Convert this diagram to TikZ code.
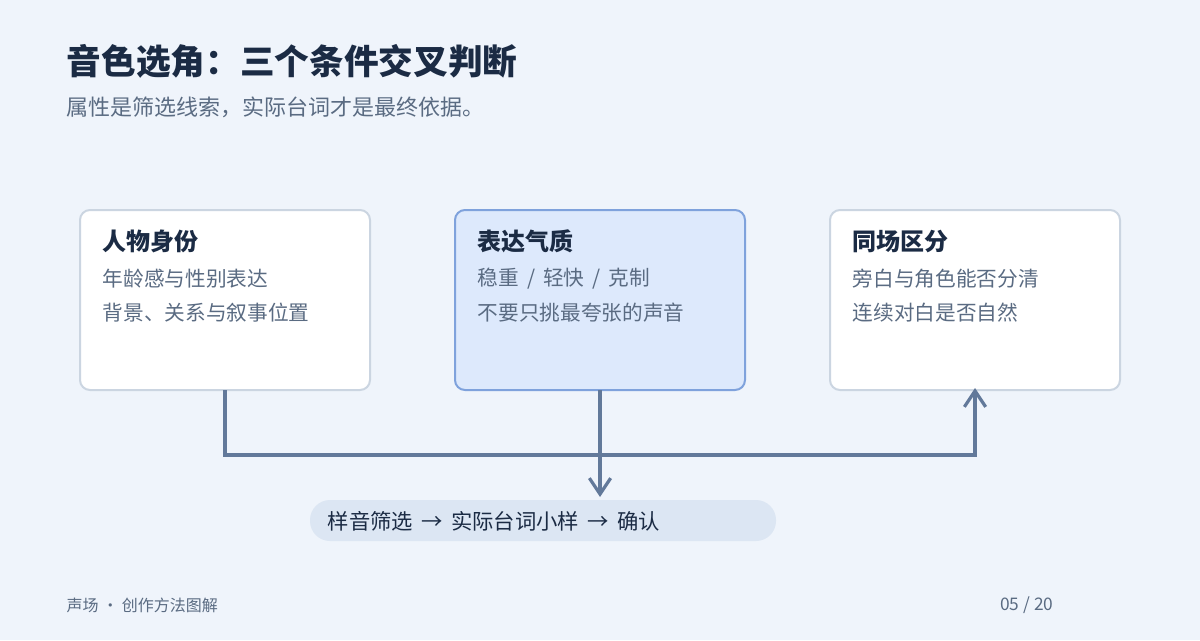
\documentclass[tikz,border=0pt]{standalone}
\usepackage{fontspec}
\setmainfont{Noto Sans CJK SC}
\usetikzlibrary{arrows.meta}
\definecolor{bg}{HTML}{EFF4FB}
\definecolor{ttl}{HTML}{1B2B44}
\definecolor{sub}{HTML}{5A6B82}
\definecolor{bd}{HTML}{CBD5E1}
\definecolor{hl}{HTML}{DDE9FC}
\definecolor{hlb}{HTML}{7FA2DC}
\definecolor{ln}{HTML}{62799A}
\definecolor{pill}{HTML}{DCE6F3}
\begin{document}
\begin{tikzpicture}[x=0.75pt,y=-0.75pt,
  card/.style={draw=bd,line width=1.5pt,fill=white,rounded corners=7.5pt},
  hd/.style={anchor=west,font=\fontsize{18}{21}\selectfont\bfseries,text=ttl},
  bt/.style={anchor=west,font=\fontsize{15.5}{18}\selectfont,text=sub},
  wire/.style={draw=ln,line width=2.4pt},
  arr/.style={wire,-{Straight Barb[length=12pt,width=16pt,line width=2.4pt]}}]
\fill[bg] (0,0) rectangle (1200,640);
\useasboundingbox (0,0) rectangle (1200,640);
\node[anchor=west,font=\fontsize{26}{31}\selectfont\bfseries,text=ttl] (t) at (62,61) {音色选角：三个条件交叉判断};
\node[anchor=west,font=\fontsize{16.5}{19}\selectfont,text=sub] (s) at (62,107) {属性是筛选线索，实际台词才是最终依据。};
\path[card] (80,210) rectangle (370,390);
\path[card,fill=hl,draw=hlb] (455,210) rectangle (745,390);
\path[card] (830,210) rectangle (1120,390);
\coordinate (a) at (225,390); \coordinate (b) at (600,390); \coordinate (c) at (975,388);
\node[hd] (h1) at (98,241) {人物身份};
\node[bt] (a1) at (98,279) {年龄感与性别表达};
\node[bt] (a2) at (98,313) {背景、关系与叙事位置};
\node[hd] (h2) at (473,241) {表达气质};
\node[bt] (b1) at (473,279) {稳重 \,/\, 轻快 \,/\, 克制};
\node[bt] (b2) at (473,313) {不要只挑最夸张的声音};
\node[hd] (h3) at (848,241) {同场区分};
\node[bt] (c1) at (848,279) {旁白与角色能否分清};
\node[bt] (c2) at (848,313) {连续对白是否自然};
\path[fill=pill,rounded corners=15pt] (310,500) rectangle (776,541);
\node[anchor=west,font=\fontsize{16}{19}\selectfont,text=ttl] (p) at (323,521) {样音筛选 \,→\, 实际台词小样 \,→\, 确认};
\coordinate (pt) at (600,497);
\draw[wire] (a) |- (600,455);
\draw[arr] (600,455) -| (c);
\draw[arr] (b) -- (pt);
\node[anchor=west,font=\fontsize{12}{14}\selectfont,text=sub] (f1) at (62,605) {声场 · 创作方法图解};
\node[anchor=east,font=\fontsize{13}{15}\selectfont,text=sub] (f2) at (1058,605) {05 / 20};
\end{tikzpicture}
\end{document}
